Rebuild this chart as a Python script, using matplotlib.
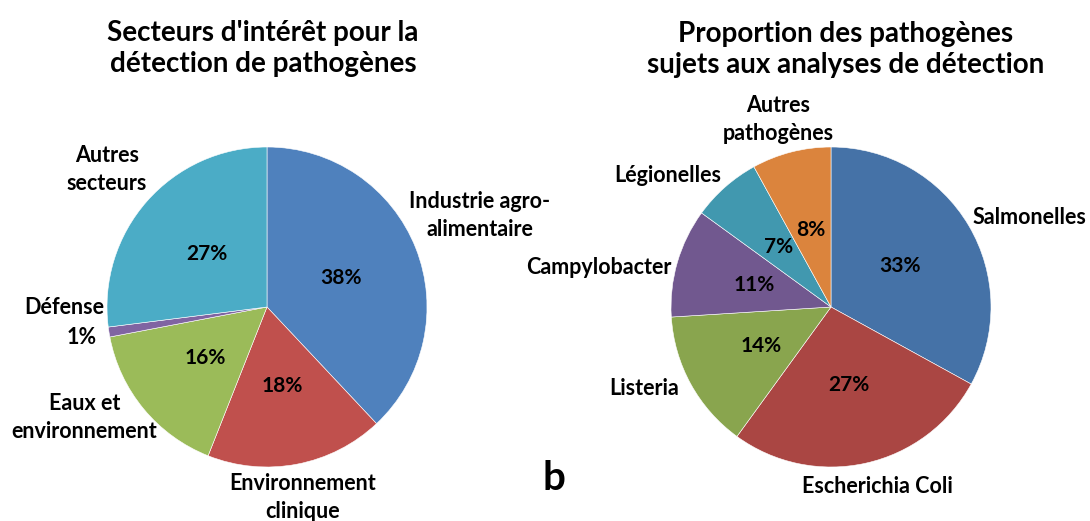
import matplotlib as m
m.use('Agg')
import matplotlib.pyplot as plt

# left pie: sectors
sect_labels = ['Industrie agro-\nalimentaire', 'Environnement\nclinique',
               'Eaux et\nenvironnement', 'Défense', 'Autres\nsecteurs']
sect_values = [38, 18, 16, 1, 27]
sect_colors = ['#4F81BD', '#C0504D', '#9BBB59', '#8064A2', '#4BACC6']

# right pie: pathogens
path_labels = ['Salmonelles', 'Escherichia Coli', 'Listeria', 'Campylobacter',
               'Légionelles', 'Autres\npathogènes']
path_values = [33, 27, 14, 11, 7, 8]
path_colors = ['#4572A7', '#AA4643', '#89A54E', '#71588F', '#4198AF', '#DB843D']

title_left = "Secteurs d'intérêt pour la\ndétection de pathogènes"
title_right = "Proportion des pathogènes\nsujets aux analyses de détection"

# label positions (pie radius units), excel "best fit" style
sect_lpos = [(1.33, 0.57), (0.22, -1.19), (-1.14, -0.69), (-1.27, 0.0), (-1.0, 0.86)]
path_lpos = [(1.24, 0.56), (0.29, -1.12), (-1.17, -0.51), (-1.45, 0.25),
             (-1.02, 0.82), (-0.33, 1.17)]

FONT = 'Lato'
W, H = 1090, 521


def draw_pie(ax, values, colors, labels, lpos, small_out=None):
  wedges, texts, autotexts = ax.pie(values, colors=colors, startangle=90,
                                    counterclock=False, autopct='%d%%',
                                    pctdistance=0.5,
                                    wedgeprops=dict(edgecolor='white', linewidth=0.4))
  for t in autotexts:
    t.set_fontfamily(FONT)
    t.set_fontweight('bold')
    t.set_fontsize(15)
  for lab, (x, y) in zip(labels, lpos):
    ax.text(x, y, lab, ha='center', va='center', fontsize=15.5,
            fontweight='bold', family=FONT, linespacing=1.4)
  if small_out is not None:
    i, (x, y) = small_out
    autotexts[i].set_position((x, y))
    autotexts[i].set_fontsize(15.5)
  ax.set_xlim(-1, 1)
  ax.set_ylim(-1, 1)
  ax.set_aspect('equal')
  ax.axis('off')


def main():
  fig = plt.figure(figsize=(W / 100.0, H / 100.0), dpi=100)
  r = 160
  cy = 307
  for cx, values, colors, labels, lpos, small in [
      (267, sect_values, sect_colors, sect_labels, sect_lpos, (3, (-1.16, -0.19))),
      (831, path_values, path_colors, path_labels, path_lpos, None)]:
    ax = fig.add_axes([(cx - r) / W, (H - cy - r) / H, 2.0 * r / W, 2.0 * r / H])
    draw_pie(ax, values, colors, labels, lpos, small)

  fig.text(263 / W, 1 - 48.5 / H, title_left, ha='center', va='center',
           fontsize=20, fontweight='bold', family=FONT, linespacing=1.25)
  fig.text(846 / W, 1 - 49.5 / H, title_right, ha='center', va='center',
           fontsize=20, fontweight='bold', family=FONT, linespacing=1.25)
  fig.text(554 / W, 1 - 479 / H, 'b', ha='center', va='center',
           fontsize=29, fontweight='bold', family=FONT)

  fig.savefig('out.png', dpi=100, facecolor='white')


if __name__ == '__main__':
  main()
